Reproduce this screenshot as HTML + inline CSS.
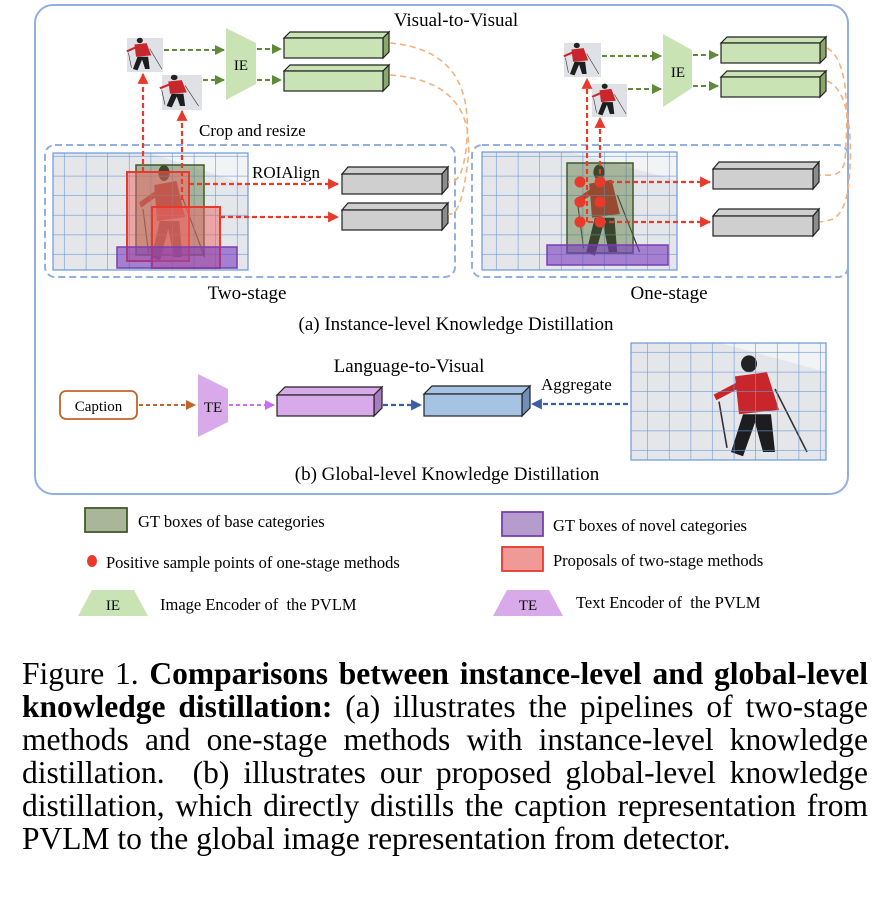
<!DOCTYPE html>
<html><head><meta charset="utf-8"><style>
body{margin:0;background:#fff;width:884px;height:904px;overflow:hidden;position:relative}
svg{position:absolute;left:0;top:0}
.cap{position:absolute;left:22px;width:846px;font-family:"Liberation Serif",serif;font-size:31.5px;line-height:33px;text-align:justify;text-align-last:justify;white-space:nowrap;color:#000}
.cap.last{text-align-last:left}
</style></head><body>
<svg width="884" height="640" viewBox="0 0 884 640" font-family="Liberation Serif, serif">
<defs>
<marker id="ar" viewBox="0 0 10 10" refX="9" refY="5" markerWidth="5" markerHeight="5" orient="auto"><path d="M0,0L10,5L0,10z" fill="#e8392b"/></marker>
<marker id="ag" viewBox="0 0 10 10" refX="9" refY="5" markerWidth="5" markerHeight="5" orient="auto"><path d="M0,0L10,5L0,10z" fill="#5f8a3a"/></marker>
<marker id="ab" viewBox="0 0 10 10" refX="9" refY="5" markerWidth="5" markerHeight="5" orient="auto"><path d="M0,0L10,5L0,10z" fill="#3a5fa8"/></marker>
<marker id="ap" viewBox="0 0 10 10" refX="9" refY="5" markerWidth="5" markerHeight="5" orient="auto"><path d="M0,0L10,5L0,10z" fill="#cf6bf0"/></marker>
<marker id="ao" viewBox="0 0 10 10" refX="9" refY="5" markerWidth="5" markerHeight="5" orient="auto"><path d="M0,0L10,5L0,10z" fill="#c0652a"/></marker>
<pattern id="grid" width="21.6" height="19.6" patternUnits="userSpaceOnUse"><path d="M21.6,0V19.6M0,19.6H21.6" fill="none" stroke="#6a9ad8" stroke-width="1.2"/></pattern>
<g id="skier">
<circle cx="55" cy="8" r="4" fill="#222"/>
<path d="M48,14 L64,12 L70,30 L50,32z" fill="#c8262a"/>
<path d="M52,32 L46,50 L52,52 L58,36 L62,50 L68,50 L66,32z" fill="#1d1d1f"/>
<path d="M38,24 L50,18" stroke="#c8262a" stroke-width="3"/>
<path d="M40,26 L44,48 M68,20 L84,50" stroke="#333" stroke-width="0.8"/>
</g>
</defs>

<rect x="35" y="5" width="813" height="489" rx="18" fill="none" stroke="#93aee0" stroke-width="2"/>

<text x="456" y="26" font-size="19" text-anchor="middle">Visual-to-Visual</text>
<text x="199" y="136" font-size="17">Crop and resize</text>
<text x="252" y="178" font-size="17">ROIAlign</text>
<text x="247" y="299" font-size="19" text-anchor="middle">Two-stage</text>
<text x="669" y="299" font-size="19" text-anchor="middle">One-stage</text>
<text x="456" y="330" font-size="19" text-anchor="middle">(a) Instance-level Knowledge Distillation</text>

<rect x="45" y="145" width="410" height="132" rx="10" fill="none" stroke="#93aee0" stroke-width="2" stroke-dasharray="7,4"/>
<rect x="472" y="145" width="376" height="132" rx="10" fill="none" stroke="#93aee0" stroke-width="2" stroke-dasharray="7,4"/>

<g>
<rect x="53" y="153" width="195" height="117" fill="#e4e6ea"/>
<path d="M53,153 L150,153 L248,185 L248,153z" fill="#f2f3f5"/>
<use href="#skier" transform="translate(87,157) scale(1.4,2.0)"/>
<rect x="53" y="153" width="195" height="117" fill="url(#grid)" stroke="#6a9ad8" stroke-width="1.2"/>
<rect x="136" y="165" width="68" height="90" fill="rgba(90,120,60,0.45)" stroke="#3f5a2c" stroke-width="1.5"/>
<rect x="127" y="172" width="62" height="89" fill="rgba(240,100,100,0.5)" stroke="#e8392b" stroke-width="2"/>
<rect x="152" y="207" width="68" height="61" fill="rgba(240,100,100,0.5)" stroke="#e8392b" stroke-width="2"/>
<rect x="117" y="247" width="120" height="21" fill="rgba(120,60,190,0.6)" stroke="#7a3fb0" stroke-width="1.5"/>
</g>
<g>
<rect x="482" y="152" width="195" height="118" fill="#e4e6ea"/>
<path d="M482,152 L570,152 L677,180 L677,152z" fill="#f2f3f5"/>
<use href="#skier" transform="translate(522,157) scale(1.4,1.9)"/>
<rect x="482" y="152" width="195" height="118" fill="url(#grid)" stroke="#6a9ad8" stroke-width="1.2"/>
<rect x="567" y="163" width="66" height="90" fill="rgba(90,120,60,0.45)" stroke="#3f5a2c" stroke-width="1.5"/>
<rect x="547" y="245" width="121" height="20" fill="rgba(120,60,190,0.6)" stroke="#7a3fb0" stroke-width="1.5"/>
</g>
<g>
<rect x="631" y="343" width="195" height="117" fill="#e4e6ea"/>
<path d="M631,343 L720,343 L826,372 L826,343z" fill="#f2f3f5"/>
<use href="#skier" transform="translate(639,347) scale(2.0,2.1)"/>
<rect x="631" y="343" width="195" height="117" fill="url(#grid)" stroke="#6a9ad8" stroke-width="1.2"/>
</g>

<g>
<rect x="127" y="38" width="36" height="34" fill="#dfe1e6"/><use href="#skier" transform="translate(98,35) scale(0.76,0.68)"/>
<rect x="162" y="75" width="40" height="35" fill="#dfe1e6"/><use href="#skier" transform="translate(128,72) scale(0.84,0.68)"/>
<rect x="564" y="43" width="37" height="34" fill="#dfe1e6"/><use href="#skier" transform="translate(535,40) scale(0.76,0.68)"/>
<rect x="592" y="84" width="35" height="33" fill="#dfe1e6"/><use href="#skier" transform="translate(564,81) scale(0.74,0.66)"/>
</g>

<path d="M226,28 L256,43 L256,84 L226,100z" fill="#c9e3b5"/>
<text x="241" y="70" font-size="15" text-anchor="middle">IE</text>
<path d="M663,34 L692,50 L692,88 L663,107z" fill="#c9e3b5"/>
<text x="678" y="77" font-size="15" text-anchor="middle">IE</text>

<g stroke="#5f8a3a" stroke-width="2" stroke-dasharray="5,3" fill="none" marker-end="url(#ag)">
<path d="M164,50 H224"/><path d="M203,80 H224"/><path d="M257,49 H281"/><path d="M257,80 H281"/>
<path d="M602,56 H661"/><path d="M628,89 H661"/><path d="M693,55 H718"/><path d="M693,86 H718"/>
</g>

<g stroke="#222" stroke-width="1.2">
<path d="M284,38 L290,32 L389,32 L383,38z" fill="#c9e3b5"/><path d="M383,38 L389,32 L389,52 L383,58z" fill="#8aa76a"/><rect x="284" y="38" width="99" height="20" fill="#c9e3b5"/>
<path d="M284,71 L290,65 L389,65 L383,71z" fill="#c9e3b5"/><path d="M383,71 L389,65 L389,85 L383,91z" fill="#8aa76a"/><rect x="284" y="71" width="99" height="20" fill="#c9e3b5"/>
<path d="M721,43 L727,37 L826,37 L820,43z" fill="#c9e3b5"/><path d="M820,43 L826,37 L826,57 L820,63z" fill="#8aa76a"/><rect x="721" y="43" width="99" height="20" fill="#c9e3b5"/>
<path d="M721,77 L727,71 L826,71 L820,77z" fill="#c9e3b5"/><path d="M820,77 L826,71 L826,91 L820,97z" fill="#8aa76a"/><rect x="721" y="77" width="99" height="20" fill="#c9e3b5"/>
<path d="M342,174 L348,167 L448,167 L442,174z" fill="#cfcfcf"/><path d="M442,174 L448,167 L448,187 L442,194z" fill="#8c8c8c"/><rect x="342" y="174" width="100" height="20" fill="#cfcfcf"/>
<path d="M342,210 L348,203 L448,203 L442,210z" fill="#cfcfcf"/><path d="M442,210 L448,203 L448,223 L442,230z" fill="#8c8c8c"/><rect x="342" y="210" width="100" height="20" fill="#cfcfcf"/>
<path d="M713,169 L719,162 L819,162 L813,169z" fill="#cfcfcf"/><path d="M813,169 L819,162 L819,182 L813,189z" fill="#8c8c8c"/><rect x="713" y="169" width="100" height="20" fill="#cfcfcf"/>
<path d="M713,216 L719,209 L819,209 L813,216z" fill="#cfcfcf"/><path d="M813,216 L819,209 L819,229 L813,236z" fill="#8c8c8c"/><rect x="713" y="216" width="100" height="20" fill="#cfcfcf"/>
<path d="M277,395 L285,387 L382,387 L374,395z" fill="#d9aaea"/><path d="M374,395 L382,387 L382,408 L374,416z" fill="#a77cc0"/><rect x="277" y="395" width="97" height="21" fill="#d9aaea"/>
<path d="M424,394 L432,386 L530,386 L522,394z" fill="#a7c3e4"/><path d="M522,394 L530,386 L530,408 L522,416z" fill="#6f8fb8"/><rect x="424" y="394" width="98" height="22" fill="#a7c3e4"/>
</g>

<g stroke="#e8392b" stroke-width="2.2" stroke-dasharray="5,3" fill="none" marker-end="url(#ar)">
<path d="M143,172 V74"/><path d="M182,200 V111"/>
<path d="M189,184 H338"/><path d="M220,217 H338"/>
<path d="M587,222 V79"/><path d="M600,182 V118"/>
<path d="M601,182 H710"/><path d="M601,222 H710"/>
</g>
<path d="M580,222 H600" stroke="#e8392b" stroke-width="2" stroke-dasharray="5,3"/>
<g fill="#e8392b">
<circle cx="580" cy="182" r="5.5"/><circle cx="600" cy="182" r="5.5"/>
<circle cx="580" cy="202" r="5.5"/><circle cx="600" cy="202" r="5.5"/>
<circle cx="580" cy="222" r="5.5"/><circle cx="600" cy="222" r="5.5"/>
</g>

<g stroke="#f2b27f" stroke-width="1.6" stroke-dasharray="6,4" fill="none">
<path d="M390,43 C470,50 470,110 466,150 C462,180 455,182 448,182"/>
<path d="M390,75 C460,80 472,120 468,160 C462,210 455,215 448,214"/>
<path d="M827,48 C850,60 848,120 845,160 C842,178 830,175 820,175"/>
<path d="M827,81 C852,90 853,150 848,190 C842,222 830,220 820,222"/>
</g>

<text x="409" y="372" font-size="19" text-anchor="middle">Language-to-Visual</text>
<rect x="60" y="391" width="77" height="28" rx="6" fill="#fff" stroke="#c0652a" stroke-width="1.8"/>
<text x="98.5" y="411" font-size="15" text-anchor="middle">Caption</text>
<path d="M198,374 L228,389 L228,422 L198,437z" fill="#d9aaea"/>
<text x="213" y="412" font-size="15" text-anchor="middle">TE</text>
<path d="M139,405 H195" stroke="#c0652a" stroke-width="2" stroke-dasharray="4,3" fill="none" marker-end="url(#ao)"/>
<path d="M229,405 H274" stroke="#cf6bf0" stroke-width="2" stroke-dasharray="4,3" fill="none" marker-end="url(#ap)"/>
<path d="M383,405 H421" stroke="#3a5fa8" stroke-width="2.2" stroke-dasharray="5,3" fill="none" marker-end="url(#ab)"/>
<path d="M628,404 H532" stroke="#3a5fa8" stroke-width="2.2" stroke-dasharray="5,3" fill="none" marker-end="url(#ab)"/>
<text x="541" y="390" font-size="17">Aggregate</text>
<text x="447" y="480" font-size="19" text-anchor="middle">(b) Global-level Knowledge Distillation</text>

<rect x="85" y="508" width="42" height="24" fill="#aab69a" stroke="#3f5a2c" stroke-width="1.8"/>
<text x="138" y="527" font-size="16.5">GT boxes of base categories</text>
<rect x="502" y="512" width="41" height="24" fill="#b59ccc" stroke="#7a3fb0" stroke-width="1.8"/>
<text x="553" y="531" font-size="16.5">GT boxes of novel categories</text>
<ellipse cx="92" cy="561" rx="5" ry="6" fill="#e8392b"/>
<text x="106" y="568" font-size="16.5">Positive sample points of one-stage methods</text>
<rect x="502" y="547" width="41" height="24" fill="#f09a98" stroke="#e8392b" stroke-width="1.8"/>
<text x="553" y="566" font-size="16.5">Proposals of two-stage methods</text>
<path d="M92,590 L134,590 L148,616 L78,616z" fill="#c9e3b5"/>
<text x="113" y="610" font-size="15" text-anchor="middle">IE</text>
<text x="160" y="610" font-size="16.5">Image Encoder of &#160;the PVLM</text>
<path d="M507,590 L549,590 L563,616 L493,616z" fill="#d9aaea"/>
<text x="528" y="610" font-size="15" text-anchor="middle">TE</text>
<text x="576" y="608" font-size="16.5">Text Encoder of &#160;the PVLM</text>
</svg>

<div class="cap" style="top:657px">Figure 1. <b>Comparisons between instance-level and global-level</b></div>
<div class="cap" style="top:690px"><b>knowledge distillation:</b> (a) illustrates the pipelines of two-stage</div>
<div class="cap" style="top:723px">methods and one-stage methods with instance-level knowledge</div>
<div class="cap" style="top:756px">distillation. &#160;(b) illustrates our proposed global-level knowledge</div>
<div class="cap" style="top:789px">distillation, which directly distills the caption representation from</div>
<div class="cap last" style="top:822px">PVLM to the global image representation from detector.</div>
</body></html>
